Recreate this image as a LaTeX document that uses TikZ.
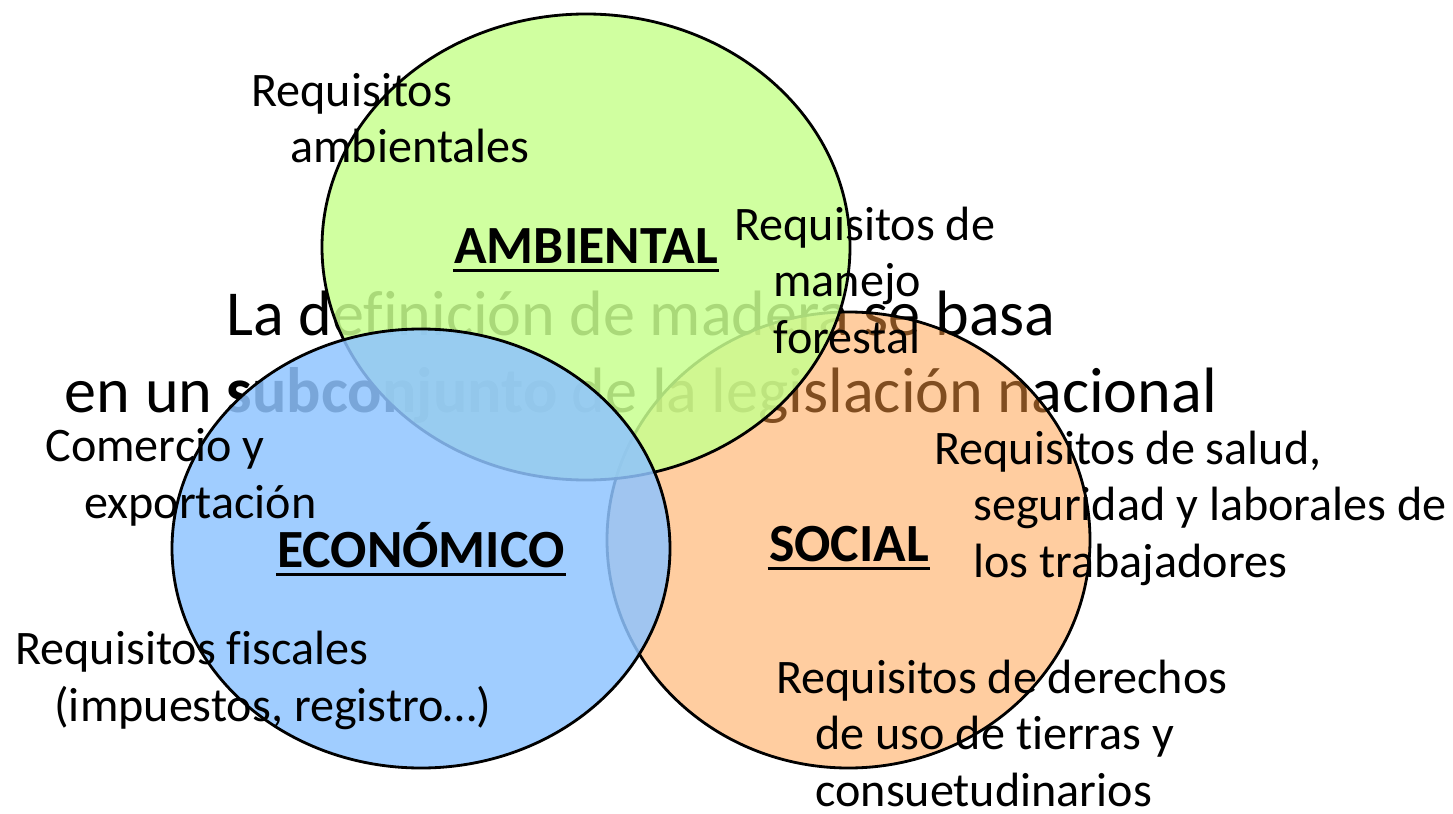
\documentclass[tikz,border=0pt]{standalone}
\usepackage{fontspec}
\setmainfont{Carlito}[Ligatures={NoCommon}]
\newcommand{\hang}{\hspace*{0.78cm}}
\definecolor{ambiental}{RGB}{200,255,143}
\definecolor{economico}{RGB}{143,196,255}
\definecolor{social}{RGB}{255,155,65}

\begin{document}
\begin{tikzpicture}[x=0.02cm,y=-0.02cm,line width=1.6pt,
  set/.style={draw=black,fill opacity=0.85},
  req/.style={inner sep=0pt,anchor=base west,align=left,font=\fontsize{27.4}{32}\selectfont},
  heading/.style={inner sep=0pt,anchor=base,font=\fontsize{30.6}{36}\selectfont\bfseries},
  title/.style={inner sep=0pt,anchor=base,align=center,font=\fontsize{36.5}{43.65}\selectfont}]
  \useasboundingbox (0,0) rectangle (1453,814);
  % texto de fondo (base = ultima linea)
  \node[title] (titulo) at (641,412) {La definición de madera se basa\\en un \textbf{subconjunto} de la legislación nacional};
  % conjuntos
  \draw[set,fill=social,fill opacity=0.5] (848.5,540) ellipse [x radius=241.5,y radius=228];
  \draw[set,fill=ambiental] (586,247) ellipse [x radius=264,y radius=233];
  \draw[set,fill=economico] (421,548.5) ellipse [x radius=249,y radius=219.5];
  % titulos
  \node[heading] (amb) at (586,263) {AMBIENTAL};
  \node[heading] (eco) at (421,567) {ECONÓMICO};
  \node[heading] (soc) at (849,561) {SOCIAL};
  \foreach \h in {amb,eco,soc}
    \draw[line width=1.9pt] ([yshift=-4.2pt]\h.base west) -- ([yshift=-4.2pt]\h.base east);
  % requisitos
  \node[req] (r1) at (250,163) {Requisitos\\\hang ambientales};
  \node[req] (r2) at (733,353) {Requisitos de\\\hang manejo\\\hang forestal};
  \node[req] (r3) at (44,518) {Comercio y\\\hang exportación};
  \node[req] (r4) at (933,577) {Requisitos de salud,\\\hang seguridad y laborales de\\\hang los trabajadores};
  \node[req] (r5) at (14,721) {Requisitos fiscales\\\hang (impuestos, registro…)};
  \node[req] (r6) at (775,806) {Requisitos de derechos\\\hang de uso de tierras y\\\hang consuetudinarios};
\end{tikzpicture}
\end{document}
